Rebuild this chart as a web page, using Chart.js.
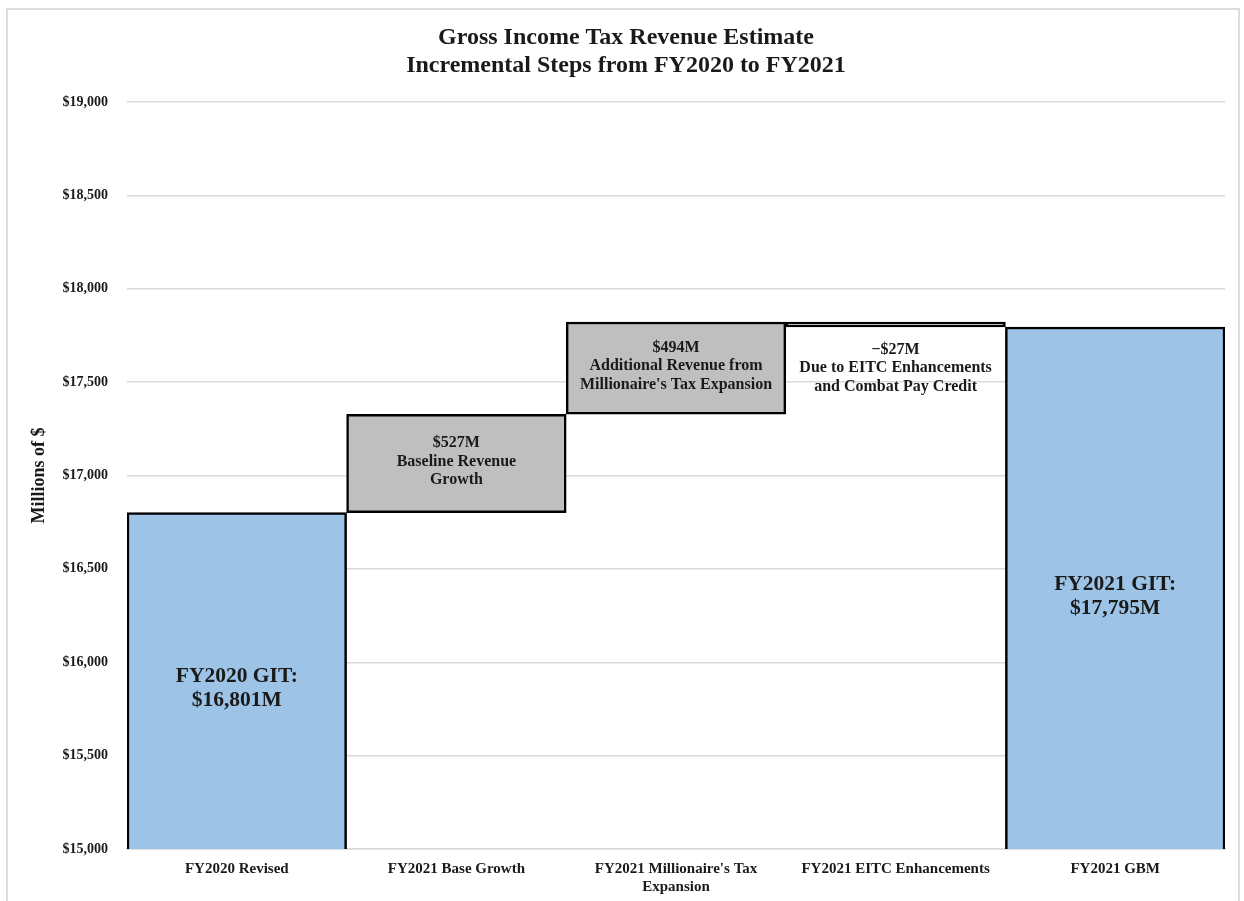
<!DOCTYPE html>
<html>
<head>
<meta charset="utf-8">
<script src="https://cdn.jsdelivr.net/npm/chart.js@4"></script>
<style>
  html, body { margin: 0; padding: 0; background: #fff; }
  #wrap { position: relative; width: 1244px; height: 901px; }
  #frame { position: absolute; left: 6px; top: 8px; width: 1234px; height: 900px; border: 2px solid #dcdcdc; box-sizing: border-box; }
  #chart { position: absolute; left: 0; top: 0; }
</style>
</head>
<body>
<div id="wrap">
  <div id="frame"></div>
  <canvas id="chart" width="1244" height="901"></canvas>
</div>
<script>
(function () {
    'use strict';

    /* ── Data ── */
    var titleLines = ['Gross Income Tax Revenue Estimate', 'Incremental Steps from FY2020 to FY2021'];
    var categories = [
        'FY2020 Revised',
        'FY2021 Base Growth',
        ["FY2021 Millionaire's Tax", 'Expansion'],
        'FY2021 EITC Enhancements',
        'FY2021 GBM'
    ];
    var axisMin = 15000;
    var startTotal = 16801;            // FY2020 GIT
    var steps = [527, 494, -27];       // incremental steps
    var endTotal = 17795;              // FY2021 GIT
    var yTicks = [15000, 15500, 16000, 16500, 17000, 17500, 18000, 18500, 19000];

    var barLabels = [
        ['FY2020 GIT:', '$16,801M'],
        ['$527M', 'Baseline Revenue', 'Growth'],
        ['$494M', 'Additional Revenue from', "Millionaire's Tax Expansion"],
        ['\u2212$27M', 'Due to EITC Enhancements', 'and Combat Pay Credit'],
        ['FY2021 GIT:', '$17,795M']
    ];

    /* ── Colours ── */
    var colours = {
        blue: '#9dc3e6',
        grey: '#bfbfbf',
        white: '#ffffff',
        border: '#000000',
        grid: '#d9d9d9',
        text: '#1a1a1a'
    };
    var serif = '"Liberation Serif", "DejaVu Serif", serif';

    /* ── Build floating ranges for the waterfall ── */
    var ranges = [[axisMin, startTotal]];
    var running = startTotal;
    steps.forEach(function (s) {
        var next = running + s;
        ranges.push([Math.min(running, next), Math.max(running, next)]);
        running = next;
    });
    ranges.push([axisMin, endTotal]);

    var fills = [colours.blue, colours.grey, colours.grey, colours.white, colours.blue];

    /* ── Plugin: two-line title centred on the frame ── */
    var frameTitle = {
        id: 'frameTitle',
        afterDraw: function (chart) {
            var ctx = chart.ctx;
            ctx.save();
            ctx.fillStyle = colours.text;
            ctx.textAlign = 'center';
            ctx.textBaseline = 'middle';
            ctx.font = 'bold 24px ' + serif;
            titleLines.forEach(function (t, k) {
                ctx.fillText(t, 626, 38 + k * 28);
            });
            ctx.restore();
        }
    };

    /* ── Plugin: text inside / below bars ── */
    var barText = {
        id: 'barText',
        afterDatasetsDraw: function (chart) {
            var ctx = chart.ctx;
            var meta = chart.getDatasetMeta(0);
            ctx.save();
            ctx.fillStyle = colours.text;
            ctx.textAlign = 'center';
            ctx.textBaseline = 'middle';
            meta.data.forEach(function (bar, i) {
                var lines = barLabels[i];
                var big = (i === 0 || i === meta.data.length - 1);
                var size = big ? 21.5 : 16;
                var lh = big ? 24 : 18.5;
                var top = Math.min(bar.y, bar.base);
                var bottom = Math.max(bar.y, bar.base);
                var cy = (top + bottom) / 2;
                if (bottom - top < 40) {
                    cy = bottom + 41;
                } else if (big) {
                    cy += 8;
                } else {
                    cy -= 2;
                }
                ctx.font = 'bold ' + size + 'px ' + serif;
                var y0 = cy - (lines.length - 1) * lh / 2;
                lines.forEach(function (t, k) {
                    ctx.fillText(t, bar.x, y0 + k * lh);
                });
            });
            ctx.restore();
        }
    };

    new Chart(document.getElementById('chart'), {
        type: 'bar',
        data: {
            labels: categories,
            datasets: [{
                data: ranges,
                backgroundColor: fills,
                borderColor: colours.border,
                borderWidth: 2.5,
                borderSkipped: ['bottom', false, false, false, 'bottom'],
                barPercentage: 1,
                categoryPercentage: 1
            }]
        },
        options: {
            responsive: false,
            animation: false,
            layout: { padding: { left: 0, right: 19, top: 102, bottom: 0 } },
            plugins: {
                legend: { display: false },
                tooltip: { enabled: false },
                title: { display: false }
            },
            scales: {
                x: {
                    grid: { display: false, drawTicks: false },
                    border: { display: true, color: colours.grid, width: 1.5 },
                    ticks: {
                        color: colours.text,
                        font: { family: serif, size: 15, weight: 'bold', lineHeight: 1.2 },
                        padding: 11,
                        maxRotation: 0,
                        autoSkip: false
                    },
                    afterFit: function (scale) { scale.height = 52; }
                },
                y: {
                    min: yTicks[0],
                    max: yTicks[yTicks.length - 1],
                    afterBuildTicks: function (scale) {
                        scale.ticks = yTicks.map(function (v) { return { value: v }; });
                    },
                    grid: { color: colours.grid, lineWidth: 1.5, drawTicks: false },
                    border: { display: false },
                    ticks: {
                        color: colours.text,
                        font: { family: serif, size: 14, weight: 'bold' },
                        padding: 19,
                        callback: function (v) { return '$' + Number(v).toLocaleString('en-US'); }
                    },
                    title: {
                        display: true,
                        text: 'Millions of $',
                        color: colours.text,
                        font: { family: serif, size: 18, weight: 'bold' },
                        padding: { top: 29, bottom: 0 }
                    },
                    afterFit: function (scale) { scale.width = 127; }
                }
            }
        },
        plugins: [barText, frameTitle]
    });
})();
</script>
</body>
</html>
